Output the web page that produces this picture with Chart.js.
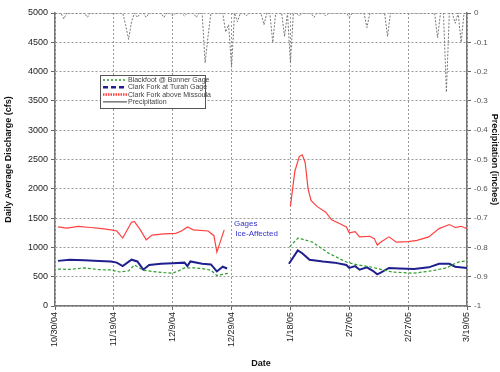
<!DOCTYPE html>
<html>
<head>
<meta charset="utf-8">
<script src="https://cdn.jsdelivr.net/npm/chart.js@4"></script>
<style>
  html, body { margin: 0; padding: 0; background: #fff; }
</style>
</head>
<body>
<canvas id="chart" width="500" height="372"></canvas>
<script>
const FONT = "'Liberation Sans', Arial, sans-serif";

// x positions are days since 10/30/04
const dateLabels = ['10/30/04', '11/19/04', '12/9/04', '12/29/04', '1/18/05', '2/7/05', '2/27/05', '3/19/05'];

// Blackfoot @ Bonner Gage (cfs), null = ice-affected gap
const blackfootDays = [1, 5, 10, 15, 19, 22, 25, 27, 30, 33, 37, 40, 42, 44, 48, 51, 53, 55, 57, 59, 68,
    79.7, 82.6, 84, 87.5, 93, 99, 103, 107, 114.5, 122, 128, 133, 137, 140];
const blackfootCfs = [630, 625, 650, 620, 615, 580, 600, 700, 610, 590, 570, 560, 600, 650, 650, 630, 610, 520, 540, 560, null,
    1010, 1160, 1140, 1090, 900, 750, 700, 670, 580, 560, 600, 650, 750, 770];

// Clark Fork at Turah Gage (cfs)
const turahDays = [1, 5, 10, 15, 19, 21, 23, 26, 28, 30, 32, 36, 40, 44, 45, 46, 50, 53, 55, 57, 58.5, 68,
    79.5, 82.5, 84, 86.5, 91, 95, 99, 100, 102, 103.5, 106, 108, 109.5, 111, 113.5, 117, 122, 127, 130.5, 134, 136, 140];
const turahCfs = [770, 790, 780, 770, 760, 740, 680, 790, 760, 620, 700, 720, 730, 740, 680, 760, 720, 710, 590, 670, 640, null,
    720, 950, 900, 790, 760, 740, 700, 650, 680, 620, 660, 600, 540, 580, 650, 640, 630, 660, 720, 720, 670, 650];

// Clark Fork above Missoula (cfs)
const missoulaDays = [1, 4, 8, 12, 16, 19, 21, 23, 26, 27, 29, 31, 33, 37, 41, 43, 45, 47, 52, 54, 55, 57.5, 68,
    80, 81.5, 83, 84, 85, 86, 87, 89, 92, 94, 97, 99, 100, 102, 103.5, 107, 108.5, 109.5, 111, 113.5, 116, 120, 123, 127, 130.5, 134, 136, 138, 140];
const missoulaCfs = [1350, 1330, 1360, 1340, 1320, 1300, 1280, 1160, 1430, 1440, 1300, 1130, 1210, 1230, 1240, 1280, 1350, 1300, 1280, 1200, 920, 1300, null,
    1700, 2300, 2550, 2580, 2450, 2000, 1800, 1700, 1600, 1470, 1400, 1350, 1250, 1270, 1180, 1190, 1150, 1040, 1100, 1180, 1090, 1100, 1120, 1180, 1320, 1390, 1340, 1360, 1320];

// daily precipitation (inches, plotted downward), day 0..140
const precipInches = [
    0, 0, 0, -0.02, 0, 0, 0, 0, 0, 0,
    0, -0.015, 0, 0, 0, 0, 0, 0, 0, 0,
    0, 0, 0, 0, -0.04, -0.09, -0.03, 0, -0.015, 0,
    0, -0.015, 0, 0, 0, 0, 0, -0.015, 0, 0,
    -0.01, 0, 0, 0, -0.01, 0, 0, 0, -0.015, 0,
    0, -0.17, -0.08, 0, 0, 0, 0, 0, -0.065, -0.04,
    -0.185, 0, -0.03, 0, 0, -0.01, 0, 0, 0, 0,
    0, -0.04, 0, 0, -0.1, 0, 0, 0, -0.08, 0,
    -0.17, 0, 0, -0.01, 0, 0, 0, 0, -0.015, 0,
    0, 0, -0.01, 0, 0, 0, 0, 0, 0, 0,
    -0.015, 0, 0, 0, 0, 0, -0.05, 0, 0, 0,
    0, 0, 0, -0.08, 0, 0, 0, 0, 0, 0,
    0, 0, 0, 0, 0, 0, 0, 0, 0, 0,
    -0.085, 0, 0, -0.27, 0, 0, -0.035, 0, -0.1, 0,
    0
];

const toPoints = (xs, ys) => xs.map((x, i) => ({ x: x, y: ys[i] }));

// legend box drawn inside the plot, plus the ice note
const chartNotes = {
    id: 'chartNotes',
    afterDraw(chart) {
        const ctx = chart.ctx;
        const x0 = 100, y0 = 75, w = 105, h = 33;
        ctx.save();
        ctx.fillStyle = '#fff';
        ctx.fillRect(x0, y0, w, h);
        ctx.strokeStyle = '#555';
        ctx.lineWidth = 1;
        ctx.strokeRect(x0 + 0.5, y0 + 0.5, w, h);

        const rows = [
            { ds: 0, dash: [2, 2], width: 1.5 },
            { ds: 1, dash: [5, 3], width: 2.5 },
            { ds: 2, dash: [1.5, 1], width: 2.5 },
            { ds: 3, dash: [], width: 1 }
        ];
        ctx.font = '7px ' + FONT;
        ctx.textBaseline = 'middle';
        rows.forEach((r, i) => {
            const ds = chart.data.datasets[r.ds];
            const y = y0 + 5 + i * 7.3;
            ctx.beginPath();
            ctx.setLineDash(r.dash);
            ctx.strokeStyle = r.ds === 3 ? '#333' : ds.borderColor;
            ctx.lineWidth = r.width;
            ctx.moveTo(x0 + 3, y);
            ctx.lineTo(x0 + 27, y);
            ctx.stroke();
            ctx.setLineDash([]);
            ctx.fillStyle = '#444';
            ctx.fillText(ds.label, x0 + 28, y);
        });

        const xs = chart.scales.x, ys = chart.scales.y;
        ctx.fillStyle = '#3333cc';
        ctx.font = '8px ' + FONT;
        ctx.textBaseline = 'middle';
        ctx.fillText('Gages', xs.getPixelForValue(60.8), ys.getPixelForValue(1410));
        ctx.fillText('Ice-Affected', xs.getPixelForValue(61.3), ys.getPixelForValue(1240));
        ctx.restore();
    }
};

new Chart(document.getElementById('chart'), {
    type: 'line',
    data: {
        datasets: [
            {
                label: 'Blackfoot @ Bonner Gage',
                data: toPoints(blackfootDays, blackfootCfs),
                borderColor: '#2e9e2e',
                borderWidth: 1.2,
                borderDash: [3, 2],
                pointRadius: 0,
                yAxisID: 'y'
            },
            {
                label: 'Clark Fork at Turah Gage',
                data: toPoints(turahDays, turahCfs),
                borderColor: '#1f1f8f',
                borderWidth: 2,
                pointRadius: 0,
                yAxisID: 'y'
            },
            {
                label: 'Clark Fork above Missoula',
                data: toPoints(missoulaDays, missoulaCfs),
                borderColor: '#ff4040',
                borderWidth: 1.2,
                pointRadius: 0,
                yAxisID: 'y'
            },
            {
                label: 'Precipitation',
                data: precipInches.map((v, i) => ({ x: i, y: v })),
                borderColor: '#777',
                borderWidth: 1,
                borderDash: [2, 1.5],
                pointRadius: 0,
                yAxisID: 'y2'
            }
        ]
    },
    options: {
        responsive: false,
        animation: false,
        spanGaps: false,
        layout: { padding: { top: 13, left: 0, right: 0, bottom: 0 } },
        plugins: {
            legend: { display: false },
            tooltip: { enabled: false }
        },
        scales: {
            x: {
                type: 'linear',
                min: 0,
                max: 140,
                ticks: {
                    stepSize: 20,
                    autoSkip: false,
                    minRotation: 90,
                    maxRotation: 90,
                    padding: 2,
                    color: '#222',
                    font: { family: FONT, size: 9 },
                    callback: v => dateLabels[Math.round(v / 20)]
                },
                grid: { color: '#999', tickLength: 4, tickColor: '#666' },
                border: { color: '#777', width: 1.5, dash: [2, 2] },
                title: {
                    display: true,
                    text: 'Date',
                    color: '#111',
                    font: { family: FONT, size: 9, weight: 'bold' },
                    padding: { top: 0, bottom: 3 }
                },
                afterFit(scale) { scale.height = 66; }
            },
            y: {
                position: 'left',
                min: 0,
                max: 5000,
                ticks: {
                    stepSize: 500,
                    padding: 3,
                    color: '#222',
                    font: { family: FONT, size: 9 },
                    callback: v => String(v)
                },
                grid: { color: '#999', tickLength: 4, tickColor: '#666' },
                border: { color: '#777', width: 1.5, dash: [2, 2] },
                title: {
                    display: true,
                    text: 'Daily Average Discharge (cfs)',
                    color: '#111',
                    font: { family: FONT, size: 9, weight: 'bold' },
                    padding: { top: 3, bottom: 0 }
                },
                afterFit(scale) { scale.width = 55; }
            },
            y2: {
                position: 'right',
                min: -1,
                max: 0,
                ticks: {
                    stepSize: 0.1,
                    padding: 3,
                    color: '#555',
                    font: { family: FONT, size: 8 },
                    callback: v => (v === 0 ? '0' : v === -1 ? '-1' : v.toFixed(1))
                },
                grid: { drawOnChartArea: false, tickLength: 4, tickColor: '#666' },
                border: { color: '#777', width: 1.5 },
                title: {
                    display: true,
                    text: 'Precipitation (inches)',
                    color: '#111',
                    font: { family: FONT, size: 9, weight: 'bold' },
                    padding: { top: 0, bottom: 3 }
                },
                afterFit(scale) { scale.width = 33; }
            }
        }
    },
    plugins: [chartNotes]
});
</script>
</body>
</html>
